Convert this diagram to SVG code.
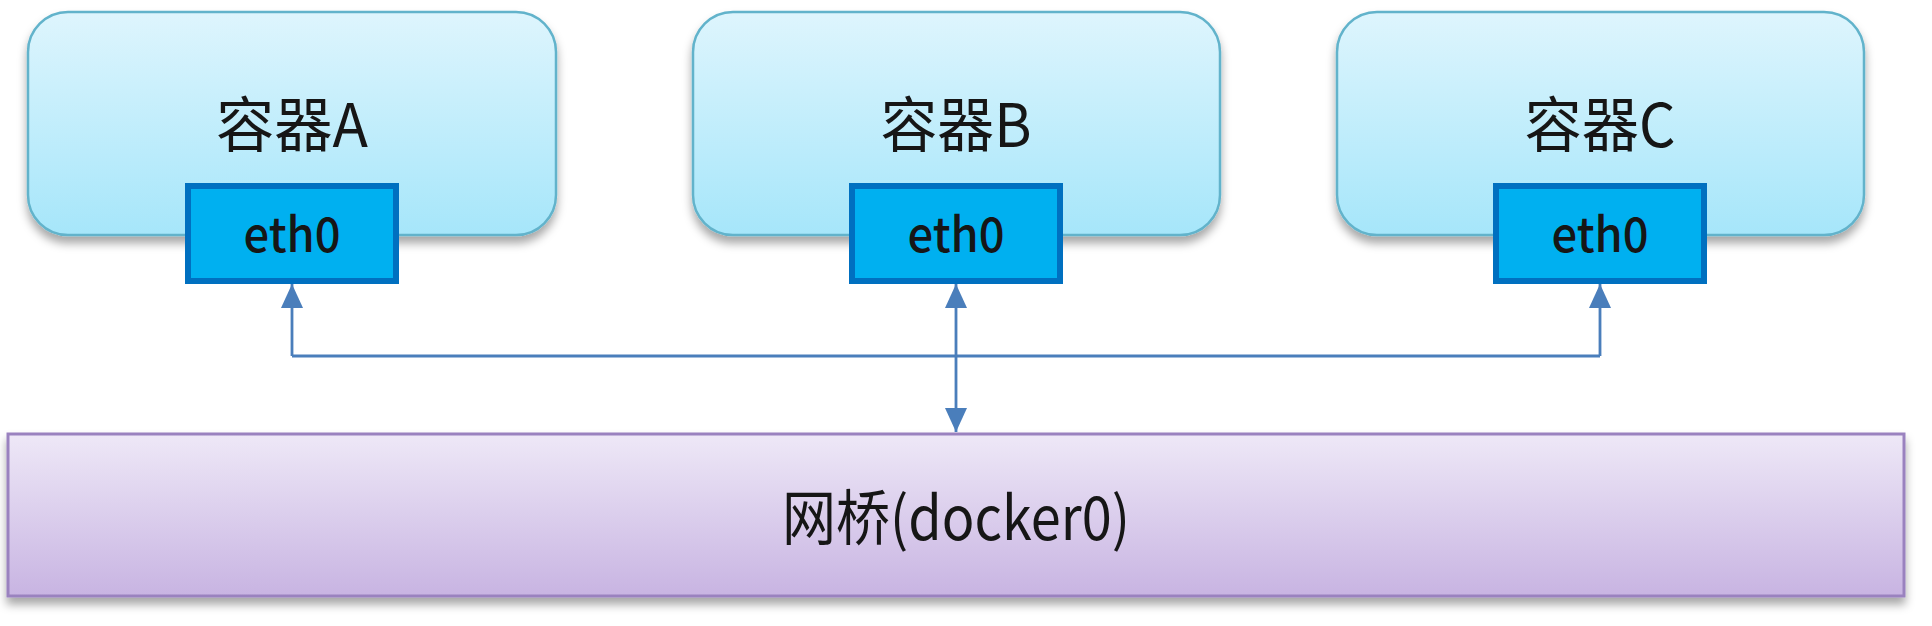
<svg xmlns="http://www.w3.org/2000/svg" width="1932" height="626" viewBox="0 0 1932 626">
<defs>
<linearGradient id="gCont" x1="0" y1="0" x2="0" y2="1">
<stop offset="0" stop-color="#DEF5FD"/>
<stop offset="1" stop-color="#A6E6FA"/>
</linearGradient>
<linearGradient id="gBridge" x1="0" y1="0" x2="0" y2="1">
<stop offset="0" stop-color="#EEE8F7"/>
<stop offset="1" stop-color="#C8B4E2"/>
</linearGradient>
<filter id="shadow" x="-5%" y="-10%" width="110%" height="130%">
<feDropShadow dx="0" dy="7" stdDeviation="5" flood-color="#000" flood-opacity="0.35"/>
</filter>
<marker id="arr" viewBox="0 0 24 22" refX="24" refY="11" markerWidth="24" markerHeight="22" markerUnits="userSpaceOnUse" orient="auto-start-reverse">
<path d="M0,0 L24,11 L0,22 Z" fill="#4A7EBB"/>
</marker>
</defs>
<style>
.cont{fill:url(#gCont);stroke:#62B3CB;stroke-width:2.5}
.eth{fill:#00B0F0;stroke:#0070C0;stroke-width:6}
.bridge{fill:url(#gBridge);stroke:#9A82BF;stroke-width:3}
.t{font-family:"Noto Sans CJK SC","Liberation Sans",sans-serif;fill:#161616;text-anchor:middle}
.ct{font-size:60px}
.et{font-size:48px;font-weight:500}
.bt{font-size:60px}
.conn{fill:none;stroke:#4A7EBB;stroke-width:2.8}
</style>
<rect width="1932" height="626" fill="#FFFFFF"/>

<g id="bridge">
<rect class="bridge" x="8" y="434" width="1896" height="162" filter="url(#shadow)"/>
<text class="t bt" x="956" y="540" textLength="348" lengthAdjust="spacingAndGlyphs">网桥(docker0)</text>
</g>

<g id="containerA">
<rect class="cont" x="28" y="12" width="528" height="223" rx="40" ry="40" filter="url(#shadow)"/>
<text class="t ct" x="292" y="147" textLength="152" lengthAdjust="spacingAndGlyphs">容器A</text>
</g>
<g id="containerB">
<rect class="cont" x="693" y="12" width="527" height="223" rx="40" ry="40" filter="url(#shadow)"/>
<text class="t ct" x="956" y="147" textLength="151" lengthAdjust="spacingAndGlyphs">容器B</text>
</g>
<g id="containerC">
<rect class="cont" x="1337" y="12" width="527" height="223" rx="40" ry="40" filter="url(#shadow)"/>
<text class="t ct" x="1600" y="147" textLength="151" lengthAdjust="spacingAndGlyphs">容器C</text>
</g>

<g id="eth0A">
<rect class="eth" x="188" y="186" width="208" height="95"/>
<text class="t et" x="292" y="252" textLength="97" lengthAdjust="spacingAndGlyphs">eth0</text>
</g>
<g id="eth0B">
<rect class="eth" x="852" y="186" width="208" height="95"/>
<text class="t et" x="956" y="252" textLength="97" lengthAdjust="spacingAndGlyphs">eth0</text>
</g>
<g id="eth0C">
<rect class="eth" x="1496" y="186" width="208" height="95"/>
<text class="t et" x="1600" y="252" textLength="97" lengthAdjust="spacingAndGlyphs">eth0</text>
</g>

<g id="connectors">
<path class="conn" d="M292,356 H1600"/>
<path class="conn" d="M292,356 V284" marker-end="url(#arr)"/>
<path class="conn" d="M1600,356 V284" marker-end="url(#arr)"/>
<path class="conn" d="M956,284 V432" marker-start="url(#arr)" marker-end="url(#arr)"/>
</g>
</svg>
